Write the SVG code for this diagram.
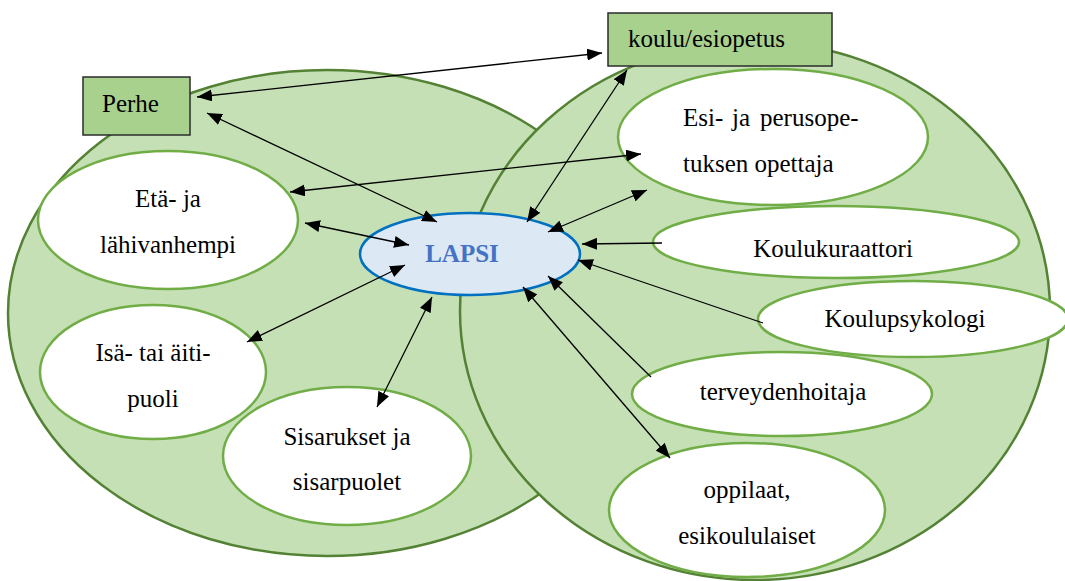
<svg xmlns="http://www.w3.org/2000/svg" width="1065" height="581" viewBox="0 0 1065 581">
<style>
.big{fill:#c5e0b4;stroke:#548235;stroke-width:2.5}
.node{fill:#ffffff;stroke:#70ad47;stroke-width:2.5}
.box{fill:#a9d18e;stroke:#2b2b2b;stroke-width:1.5}
.t{font-family:"Liberation Serif","Times New Roman",serif;font-size:25px;fill:#000}
.c{text-anchor:middle}
.con{stroke:#000;stroke-width:1.3;fill:none}
</style>
<defs>
<marker id="ah" viewBox="0 0 15 12" refX="15" refY="6" markerWidth="15" markerHeight="12" markerUnits="userSpaceOnUse" orient="auto-start-reverse">
<path d="M0,0 L15,6 L0,12 z" fill="#000"/>
</marker>
</defs>
<rect width="1065" height="581" fill="#fff"/>
<g id="groups">
<ellipse class="big" cx="327" cy="313" rx="319" ry="243"/>
<ellipse class="big" cx="755" cy="311" rx="295" ry="269"/>
</g>
<g id="node-eta">
<ellipse class="node" cx="168" cy="220" rx="130" ry="69"/>
<text class="t c" x="168" y="207">Etä- ja</text>
<text class="t c" x="168" y="253">lähivanhempi</text>
</g>
<g id="node-isa">
<ellipse class="node" cx="153" cy="372" rx="113" ry="67"/>
<text class="t c" x="153" y="361">Isä- tai äiti-</text>
<text class="t c" x="153" y="407">puoli</text>
</g>
<g id="node-sisarukset">
<ellipse class="node" cx="347" cy="456" rx="124" ry="69"/>
<text class="t c" x="347" y="445">Sisarukset ja</text>
<text class="t c" x="347" y="490">sisarpuolet</text>
</g>
<g id="node-esi">
<ellipse class="node" cx="773" cy="137" rx="155" ry="68"/>
<text class="t" y="126"><tspan x="683">Esi-</tspan><tspan x="732">ja</tspan><tspan x="760">perusope-</tspan></text>
<text class="t" x="683" y="172">tuksen opettaja</text>
</g>
<g id="node-kuraattori">
<ellipse class="node" cx="836" cy="242" rx="183" ry="36"/>
<text class="t c" x="833" y="257">Koulukuraattori</text>
</g>
<g id="node-psykologi">
<ellipse class="node" cx="913" cy="319" rx="155" ry="38"/>
<text class="t c" x="905" y="327">Koulupsykologi</text>
</g>
<g id="node-terveydenhoitaja">
<ellipse class="node" cx="782" cy="394" rx="150" ry="42"/>
<text class="t c" x="783" y="400">terveydenhoitaja</text>
</g>
<g id="node-oppilaat">
<ellipse class="node" cx="747" cy="510" rx="138" ry="67"/>
<text class="t c" x="747" y="498">oppilaat,</text>
<text class="t c" x="747" y="544">esikoululaiset</text>
</g>
<g id="node-perhe">
<rect class="box" x="83" y="77" width="107" height="58"/>
<text class="t" x="102" y="112">Perhe</text>
</g>
<g id="node-koulu">
<rect class="box" x="608" y="13" width="224" height="53"/>
<text class="t" x="628" y="47">koulu/esiopetus</text>
</g>
<g id="node-lapsi">
<ellipse cx="470" cy="254" rx="110" ry="41" fill="#dce9f5" stroke="#0070c0" stroke-width="2.5"/>
<text x="462" y="262" text-anchor="middle" font-family="'Liberation Serif','Times New Roman',serif" font-size="25" font-weight="bold" fill="#4472c4">LAPSI</text>
</g>
<g id="connectors">
<line class="con" x1="197" y1="97" x2="602" y2="53" marker-start="url(#ah)" marker-end="url(#ah)"/>
<line class="con" x1="207" y1="113" x2="437" y2="222" marker-start="url(#ah)" marker-end="url(#ah)"/>
<line class="con" x1="290" y1="192" x2="641" y2="154" marker-start="url(#ah)" marker-end="url(#ah)"/>
<line class="con" x1="305" y1="223" x2="409" y2="245" marker-start="url(#ah)" marker-end="url(#ah)"/>
<line class="con" x1="405" y1="265" x2="247" y2="342" marker-start="url(#ah)" marker-end="url(#ah)"/>
<line class="con" x1="432" y1="297" x2="377" y2="407" marker-start="url(#ah)" marker-end="url(#ah)"/>
<line class="con" x1="627" y1="70" x2="527" y2="222" marker-start="url(#ah)" marker-end="url(#ah)"/>
<line class="con" x1="548" y1="232" x2="647" y2="190" marker-start="url(#ah)" marker-end="url(#ah)"/>
<line class="con" x1="662" y1="243" x2="582" y2="244" marker-end="url(#ah)"/>
<line class="con" x1="763" y1="323" x2="578" y2="260" marker-end="url(#ah)"/>
<line class="con" x1="651" y1="377" x2="548" y2="276" marker-end="url(#ah)"/>
<line class="con" x1="523" y1="287" x2="670" y2="458" marker-start="url(#ah)" marker-end="url(#ah)"/>
</g>
</svg>
